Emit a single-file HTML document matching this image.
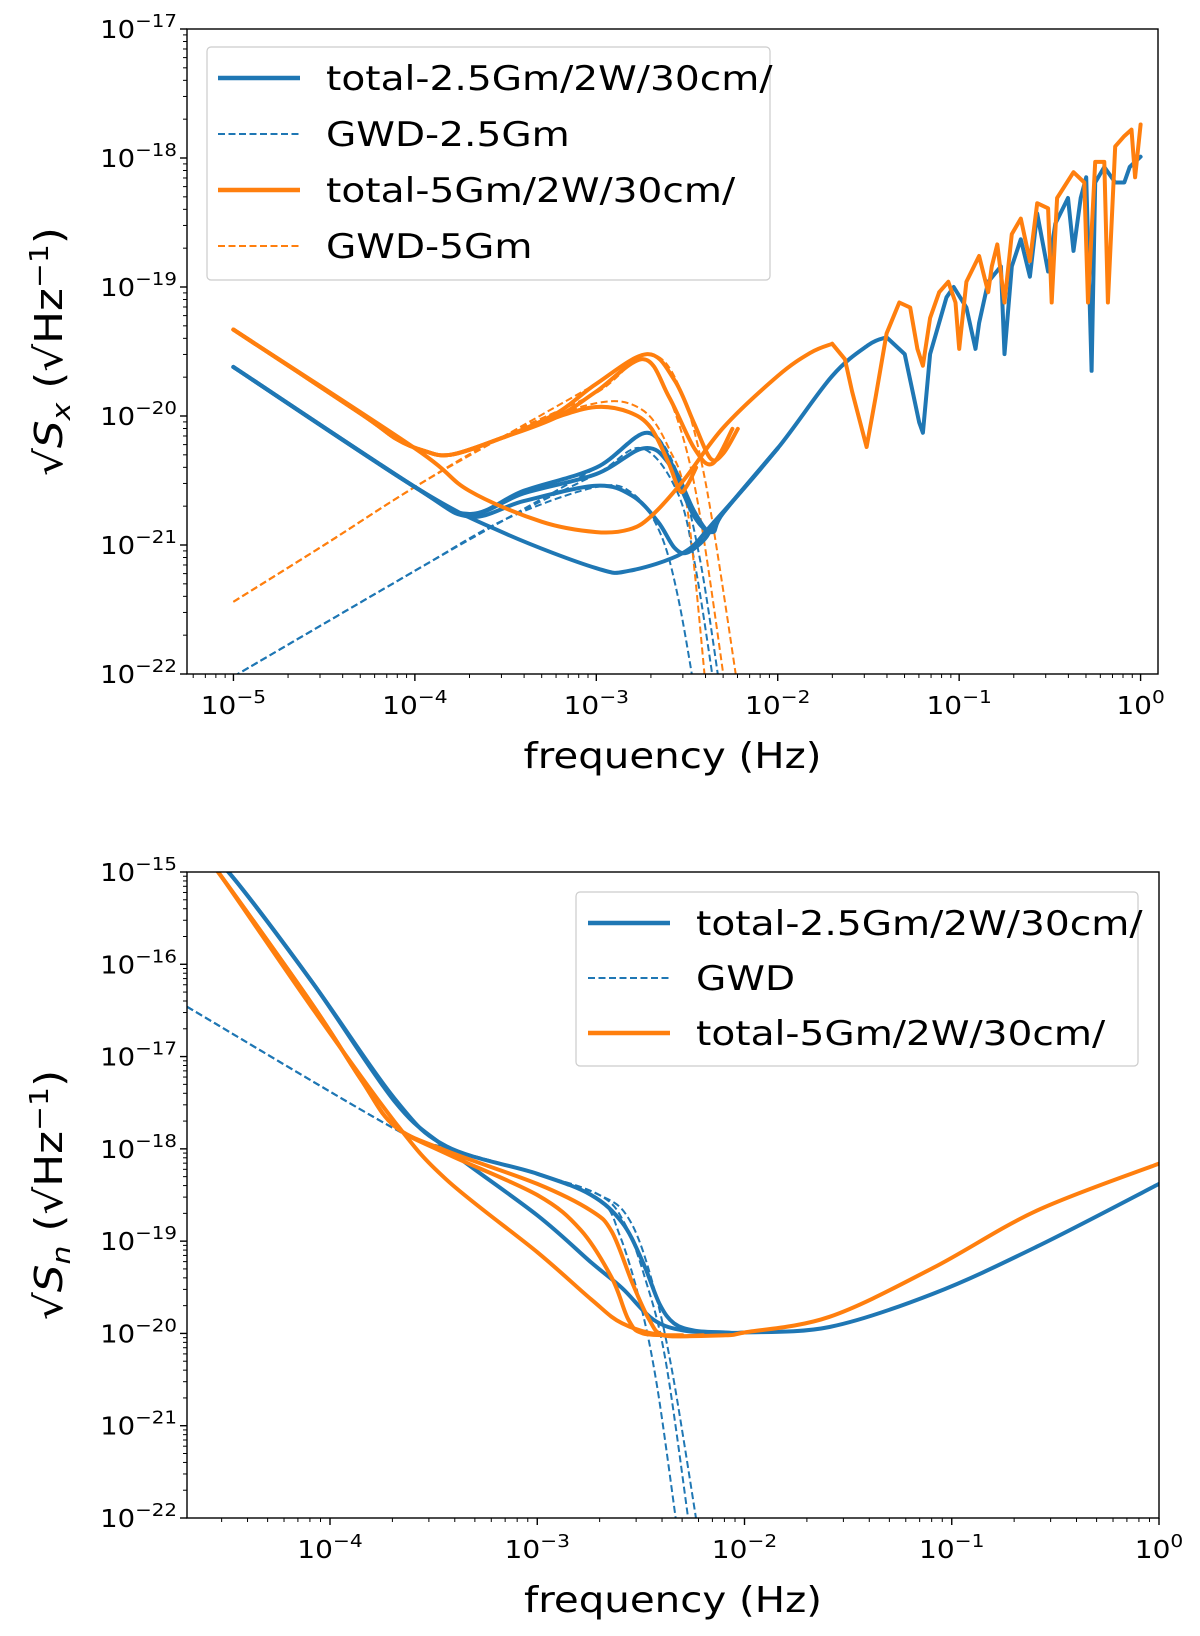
<!DOCTYPE html>
<html><head><meta charset="utf-8"><style>
html,body{margin:0;padding:0;background:#fff;}
svg{display:block;font-family:"DejaVu Sans","Liberation Sans",sans-serif;}
</style></head><body>
<svg id="fig" width="1200" height="1636" viewBox="0 0 1200 1636" xmlns="http://www.w3.org/2000/svg"></svg>
<script>
// ---------- data (log10 frequency, log10 amplitude) ----------
const topBlueA = [[-5,-19.62],[-4,-20.55],[-3.52,-20.9],[-3,-21.18],[-2.82,-21.2],[-2.52,-21.06],[-2.35,-20.82],[-2,-20.25],[-1.7,-19.69],[-1.5,-19.45],[-1.4,-19.39]];
const topBlueB = [[-5,-19.62],[-4,-20.55],[-3.7,-20.78],[-3.4,-20.66],[-3,-20.54],[-2.8,-20.62],[-2.66,-20.82],[-2.57,-21.02],[-2.5,-21.06],[-2.4,-20.95],[-2.35,-20.82]];
const topBlueC = [[-5,-19.62],[-4,-20.55],[-3.7,-20.76],[-3.4,-20.6],[-3,-20.45],[-2.74,-20.25],[-2.6,-20.37],[-2.46,-20.78],[-2.36,-20.9],[-2.3,-20.75],[-2,-20.25]];
const topBlueD = [[-5,-19.62],[-4,-20.55],[-3.7,-20.76],[-3.4,-20.58],[-3,-20.4],[-2.72,-20.13],[-2.57,-20.41],[-2.46,-20.74],[-2.37,-20.9],[-2.3,-20.75],[-2,-20.25]];
const topBlueHF = [[-1.4,-19.39],[-1.3,-19.52],[-1.22,-20.05],[-1.2,-20.13],[-1.16,-19.52],[-1.07,-19.08],[-1.03,-19.0],[-0.96,-19.16],[-0.91,-19.48],[-0.89,-19.28],[-0.84,-18.96],[-0.77,-18.84],[-0.75,-19.52],[-0.71,-18.84],[-0.66,-18.63],[-0.61,-18.92],[-0.57,-18.43],[-0.51,-18.88],[-0.47,-18.51],[-0.4,-18.31],[-0.37,-18.72],[-0.33,-18.31],[-0.3,-18.15],[-0.27,-19.65],[-0.25,-18.19],[-0.2,-18.07],[-0.14,-18.19],[-0.09,-18.19],[-0.06,-18.07],[0,-17.99]];
const topOrangeA = [[-5,-19.33],[-4,-20.25],[-3.7,-20.58],[-3.3,-20.82],[-3,-20.9],[-2.82,-20.88],[-2.7,-20.78],[-2.52,-20.5],[-2.3,-20.09],[-2,-19.69],[-1.82,-19.51],[-1.7,-19.44]];
const topOrangeHF = [[-1.7,-19.44],[-1.63,-19.56],[-1.59,-19.81],[-1.51,-20.24],[-1.46,-19.85],[-1.4,-19.36],[-1.33,-19.12],[-1.27,-19.16],[-1.23,-19.48],[-1.2,-19.61],[-1.16,-19.24],[-1.11,-19.04],[-1.06,-18.96],[-1.02,-19.12],[-1.0,-19.48],[-0.96,-18.96],[-0.89,-18.76],[-0.84,-19.04],[-0.82,-18.84],[-0.79,-18.67],[-0.75,-19.12],[-0.71,-18.59],[-0.66,-18.47],[-0.61,-18.8],[-0.57,-18.35],[-0.51,-18.39],[-0.49,-19.12],[-0.46,-18.31],[-0.37,-18.11],[-0.31,-18.19],[-0.29,-19.12],[-0.25,-18.03],[-0.2,-18.03],[-0.18,-19.12],[-0.14,-17.91],[-0.09,-17.83],[-0.05,-17.78],[-0.03,-18.15],[0,-17.74]];
const topOrangeB = [[-5,-19.33],[-4.3,-19.98],[-4.1,-20.18],[-3.95,-20.27],[-3.8,-20.3],[-3.52,-20.17],[-3.22,-20.01],[-3,-19.93],[-2.82,-19.97],[-2.7,-20.09],[-2.6,-20.37],[-2.54,-20.58],[-2.5,-20.54],[-2.45,-20.4]];
const topOrangeC = [[-5,-19.33],[-4.3,-19.98],[-4.1,-20.18],[-3.95,-20.27],[-3.8,-20.3],[-3.52,-20.17],[-3.22,-20.01],[-3,-19.81],[-2.74,-19.56],[-2.6,-19.85],[-2.46,-20.25],[-2.36,-20.37],[-2.25,-20.1]];
const topOrangeD = [[-5,-19.33],[-4.3,-19.98],[-4.1,-20.18],[-3.95,-20.27],[-3.8,-20.3],[-3.52,-20.17],[-3.22,-19.98],[-3,-19.75],[-2.72,-19.52],[-2.57,-19.72],[-2.46,-20.06],[-2.37,-20.33],[-2.3,-20.29],[-2.22,-20.1]];
const topBlueGwd1 = [[-5,-22.02],[-4,-21.2],[-3.5,-20.8],[-3,-20.55],[-2.8,-20.6],[-2.65,-20.9],[-2.55,-21.4],[-2.45,-22.2]];
const topBlueGwd2 = [[-5,-22.02],[-4,-21.2],[-3.5,-20.8],[-3,-20.45],[-2.75,-20.25],[-2.55,-20.6],[-2.45,-21.2],[-2.34,-22.2]];
const topBlueGwd3 = [[-5,-22.02],[-4,-21.2],[-3.5,-20.8],[-3,-20.4],[-2.72,-20.13],[-2.55,-20.45],[-2.43,-21.1],[-2.31,-22.2]];
const topOrangeGwd1 = [[-5,-21.44],[-4.5,-21.0],[-4,-20.55],[-3.5,-20.15],[-3,-19.9],[-2.75,-19.95],[-2.6,-20.25],[-2.5,-20.7],[-2.39,-22.2]];
const topOrangeGwd2 = [[-5,-21.44],[-4.5,-21.0],[-4,-20.55],[-3.5,-20.15],[-3,-19.82],[-2.75,-19.56],[-2.6,-19.85],[-2.45,-20.6],[-2.28,-22.2]];
const topOrangeGwd3 = [[-5,-21.44],[-4.5,-21.0],[-4,-20.55],[-3.5,-20.15],[-3,-19.75],[-2.72,-19.52],[-2.55,-19.75],[-2.4,-20.5],[-2.21,-22.2]];
const botBlueT1 = [[-4.6,-14.85],[-4.49,-15.0],[-4.09,-16.18],[-3.69,-17.48],[-3.44,-17.99],[-3,-18.72],[-2.74,-19.23],[-2.59,-19.51],[-2.44,-19.85],[-2.29,-19.97],[-2.09,-19.99],[-2,-19.99],[-1.59,-19.93],[-1.09,-19.57],[-0.59,-19.06],[0,-18.38]];
const botBlueT2 = [[-4.6,-14.85],[-4.49,-15.0],[-4.09,-16.18],[-3.69,-17.45],[-3.44,-17.97],[-3,-18.27],[-2.74,-18.5],[-2.59,-18.8],[-2.49,-19.23],[-2.41,-19.68],[-2.34,-19.89],[-2.24,-19.97],[-2.09,-19.99]];
const botOrangeO1 = [[-4.7,-14.55],[-4.54,-15.0],[-4.09,-16.46],[-3.69,-17.7],[-3.44,-18.33],[-3,-19.12],[-2.74,-19.63],[-2.59,-19.89],[-2.39,-20.02],[-2.09,-20.02],[-2,-19.99],[-1.59,-19.82],[-1.09,-19.29],[-0.59,-18.67],[0,-18.16]];
const botOrangeO2 = [[-4.7,-14.55],[-4.54,-15.0],[-4.09,-16.42],[-3.85,-17.25],[-3.69,-17.75],[-3.44,-18.02],[-3,-18.38],[-2.74,-18.67],[-2.64,-18.9],[-2.54,-19.46],[-2.46,-19.85],[-2.39,-20.02],[-2.2,-20.02]];
const botOrangeO3 = [[-4.7,-14.55],[-4.54,-15.0],[-4.09,-16.42],[-3.85,-17.25],[-3.69,-17.75],[-3.44,-18.05],[-3,-18.5],[-2.79,-18.88],[-2.64,-19.4],[-2.56,-19.85],[-2.49,-20.0],[-2.3,-20.02]];
const botGwd1 = [[-4.69,-16.46],[-3.69,-17.78],[-3.44,-17.99],[-3,-18.27],[-2.7,-18.55],[-2.6,-18.95],[-2.5,-19.7],[-2.42,-20.6],[-2.32,-22.2]];
const botGwd2 = [[-4.69,-16.46],[-3.69,-17.78],[-3.44,-17.99],[-3,-18.27],[-2.7,-18.5],[-2.58,-18.8],[-2.48,-19.4],[-2.38,-20.3],[-2.26,-22.2]];
const botGwd3 = [[-4.69,-16.46],[-3.69,-17.78],[-3.44,-17.99],[-3,-18.27],[-2.7,-18.5],[-2.56,-18.75],[-2.45,-19.4],[-2.35,-20.4],[-2.22,-22.2]];
const topXTicks = [-5,-4,-3,-2,-1,0];
const topYTicks = [-22,-21,-20,-19,-18,-17];
const botXTicks = [-4,-3,-2,-1,0];
const botYTicks = [-22,-21,-20,-19,-18,-17,-16,-15];
const legendTopLabels = ["total-2.5Gm/2W/30cm/","GWD-2.5Gm","total-5Gm/2W/30cm/","GWD-5Gm"];
const legendBotLabels = ["total-2.5Gm/2W/30cm/","GWD","total-5Gm/2W/30cm/"];

const NS = "http://www.w3.org/2000/svg";
const svg = document.getElementById('fig');
const BLUE = "#1f77b4", ORANGE = "#ff7f0e";
function mk(tag, attrs, parent){const e=document.createElementNS(NS,tag);for(const k in attrs)e.setAttribute(k,attrs[k]);(parent||svg).appendChild(e);return e;}
function stretch(t,f){try{const w=t.getComputedTextLength();t.setAttribute('textLength',(w*f).toFixed(1));t.setAttribute('lengthAdjust','spacingAndGlyphs');}catch(e){}}
function smoothPath(P){
  let d='M'+P[0][0].toFixed(1)+','+P[0][1].toFixed(1);
  for(let i=0;i<P.length-1;i++){
    const p0=P[i-1]||P[i],p1=P[i],p2=P[i+1],p3=P[i+2]||p2;
    const c1=[p1[0]+(p2[0]-p0[0])/6,p1[1]+(p2[1]-p0[1])/6];
    const c2=[p2[0]-(p3[0]-p1[0])/6,p2[1]-(p3[1]-p1[1])/6];
    d+='C'+c1[0].toFixed(1)+','+c1[1].toFixed(1)+' '+c2[0].toFixed(1)+','+c2[1].toFixed(1)+' '+p2[0].toFixed(1)+','+p2[1].toFixed(1);
  }
  return d;
}

function panel(cfg){
  const g = mk('g',{});
  
  
  const X = v => cfg.L + (v - cfg.xmin) / (cfg.xmax - cfg.xmin) * (cfg.R - cfg.L);
  const Y = v => cfg.B - (v - cfg.ymin) / (cfg.ymax - cfg.ymin) * (cfg.B - cfg.T);
  const cid = cfg.name + '-clip';
  const cp = mk('clipPath',{id:cid},g);
  mk('rect',{x:cfg.L,y:cfg.T,width:cfg.R-cfg.L,height:cfg.B-cfg.T},cp);
  const lines = mk('g',{'clip-path':'url(#'+cid+')'},g);
  cfg.series.forEach(s=>{
    const pts=s.data.map(pt=>[X(pt[0]),Y(pt[1])]);
    const d = s.straight ? pts.map((p,i)=>(i?'L':'M')+p[0].toFixed(1)+','+p[1].toFixed(1)).join('') : smoothPath(pts);
    const p = mk('path',{d:d,fill:'none',stroke:s.color,'stroke-width':s.dash?2:4,'stroke-dasharray':s.dash?'7,3.5':'none','stroke-linejoin':'round','stroke-linecap':s.dash?'butt':'round'},lines);
    
    
  });
  const frame = mk('rect',{x:cfg.L,y:cfg.T,width:cfg.R-cfg.L,height:cfg.B-cfg.T,fill:'none',stroke:'#000','stroke-width':1.4},g);
  
  
  for(let d=Math.floor(cfg.xmin); d<=Math.ceil(cfg.xmax); d++){
    for(let m=1;m<10;m++){
      const v=d+Math.log10(m); if(v<cfg.xmin-1e-6||v>cfg.xmax+1e-6)continue;
      const x=X(v); mk('line',{x1:x,x2:x,y1:cfg.B,y2:cfg.B+(m===1?7:4),stroke:'#000','stroke-width':m===1?1.4:1},g);
    }
  }
  cfg.xt.forEach(v=>{
    const t=mk('text',{x:X(v),y:cfg.B+40,'text-anchor':'middle','font-size':25,fill:'#000'},g);
    
    
    t.innerHTML='10<tspan dy="-11" font-size="18">'+(v<0?'\u2212'+(-v):v)+'</tspan>';
    stretch(t,1.12);
  });
  for(let d=Math.floor(cfg.ymin); d<=Math.ceil(cfg.ymax); d++){
    for(let m=1;m<10;m++){
      const v=d+Math.log10(m); if(v<cfg.ymin-1e-6||v>cfg.ymax+1e-6)continue;
      const y=Y(v); mk('line',{x1:cfg.L,x2:cfg.L-(m===1?7:4),y1:y,y2:y,stroke:'#000','stroke-width':m===1?1.4:1},g);
    }
  }
  cfg.yt.forEach(v=>{
    const t=mk('text',{x:cfg.L-10,y:Y(v)+9,'text-anchor':'end','font-size':25,fill:'#000'},g);
    
    
    t.innerHTML='10<tspan dy="-11" font-size="18">\u2212'+(-v)+'</tspan>';
    stretch(t,1.1);
  });
  const xl=mk('text',{x:(cfg.L+cfg.R)/2,y:cfg.xly,'text-anchor':'middle','font-size':36,fill:'#000'},g);
  
  
  xl.textContent='frequency (Hz)';
  stretch(xl,1.12);
  const yl=mk('text',{x:0,y:0,'text-anchor':'middle','font-size':38,fill:'#000',transform:'translate(62,'+(cfg.T+cfg.B)/2+') rotate(-90)'},g);
  
  
  yl.innerHTML='\u221A<tspan font-style="italic">S<tspan font-size="26" dy="8">'+cfg.sub+'</tspan></tspan><tspan dy="-8"> (\u221AHz<tspan font-size="26" dy="-14">\u22121</tspan></tspan><tspan dy="14">)</tspan>';
  stretch(yl,1.15);
  const lg=mk('g',{},g);
  
  
  const lb=cfg.leg;
  mk('rect',{x:lb.x,y:lb.y,width:lb.w,height:lb.h,rx:4,fill:'#fff','fill-opacity':0.8,stroke:'#ccc','stroke-width':1.2},lg);
  lb.items.forEach((it,i)=>{
    const yy=lb.y0+i*lb.dy;
    const e=mk('g',{},lg);
    
    
    mk('line',{x1:lb.lx,x2:lb.lx+82,y1:yy,y2:yy,stroke:it.color,'stroke-width':it.dash?2:4.5,'stroke-dasharray':it.dash?'7,3.5':'none'},e);
    const t=mk('text',{x:lb.lx+108,y:yy+12,'font-size':34,fill:'#000'},e);
    t.textContent=it.label;
    stretch(t,1.15);
  });
}

panel({name:'top-panel',L:187,R:1158,T:29,B:674,xmin:-5.256,xmax:0.096,ymin:-22,ymax:-17,xt:topXTicks,yt:topYTicks,sub:'x',xly:768,
  series:[
    {name:'blue-gwd-1',data:topBlueGwd1,color:BLUE,dash:1},{name:'blue-gwd-2',data:topBlueGwd2,color:BLUE,dash:1},{name:'blue-gwd-3',data:topBlueGwd3,color:BLUE,dash:1},
    {name:'orange-gwd-1',data:topOrangeGwd1,color:ORANGE,dash:1},{name:'orange-gwd-2',data:topOrangeGwd2,color:ORANGE,dash:1},{name:'orange-gwd-3',data:topOrangeGwd3,color:ORANGE,dash:1},
    {name:'blue-total-a',data:topBlueA,color:BLUE},{name:'blue-total-a-hf',data:topBlueHF,color:BLUE,straight:1},{name:'blue-total-b',data:topBlueB,color:BLUE},{name:'blue-total-c',data:topBlueC,color:BLUE},{name:'blue-total-d',data:topBlueD,color:BLUE},
    {name:'orange-total-a',data:topOrangeA,color:ORANGE},{name:'orange-total-a-hf',data:topOrangeHF,color:ORANGE,straight:1},{name:'orange-total-b',data:topOrangeB,color:ORANGE},{name:'orange-total-c',data:topOrangeC,color:ORANGE},{name:'orange-total-d',data:topOrangeD,color:ORANGE}
  ],
  leg:{x:207,y:47,w:563,h:233,lx:218,y0:78,dy:56,items:[
    {label:legendTopLabels[0],color:BLUE},{label:legendTopLabels[1],color:BLUE,dash:1},{label:legendTopLabels[2],color:ORANGE},{label:legendTopLabels[3],color:ORANGE,dash:1}]}
});
panel({name:'bottom-panel',L:187,R:1159,T:872,B:1518,xmin:-4.69,xmax:0,ymin:-22,ymax:-15,xt:botXTicks,yt:botYTicks,sub:'n',xly:1612,
  series:[
    {name:'gwd-1',data:botGwd1,color:BLUE,dash:1},{name:'gwd-2',data:botGwd2,color:BLUE,dash:1},{name:'gwd-3',data:botGwd3,color:BLUE,dash:1},
    {name:'blue-total-1',data:botBlueT1,color:BLUE},{name:'blue-total-2',data:botBlueT2,color:BLUE},
    {name:'orange-total-1',data:botOrangeO1,color:ORANGE},{name:'orange-total-2',data:botOrangeO2,color:ORANGE},{name:'orange-total-3',data:botOrangeO3,color:ORANGE}
  ],
  leg:{x:576,y:892,w:562,h:174,lx:588,y0:923,dy:55,items:[
    {label:legendBotLabels[0],color:BLUE},{label:legendBotLabels[1],color:BLUE,dash:1},{label:legendBotLabels[2],color:ORANGE}]}
});
</script>
</body></html>
